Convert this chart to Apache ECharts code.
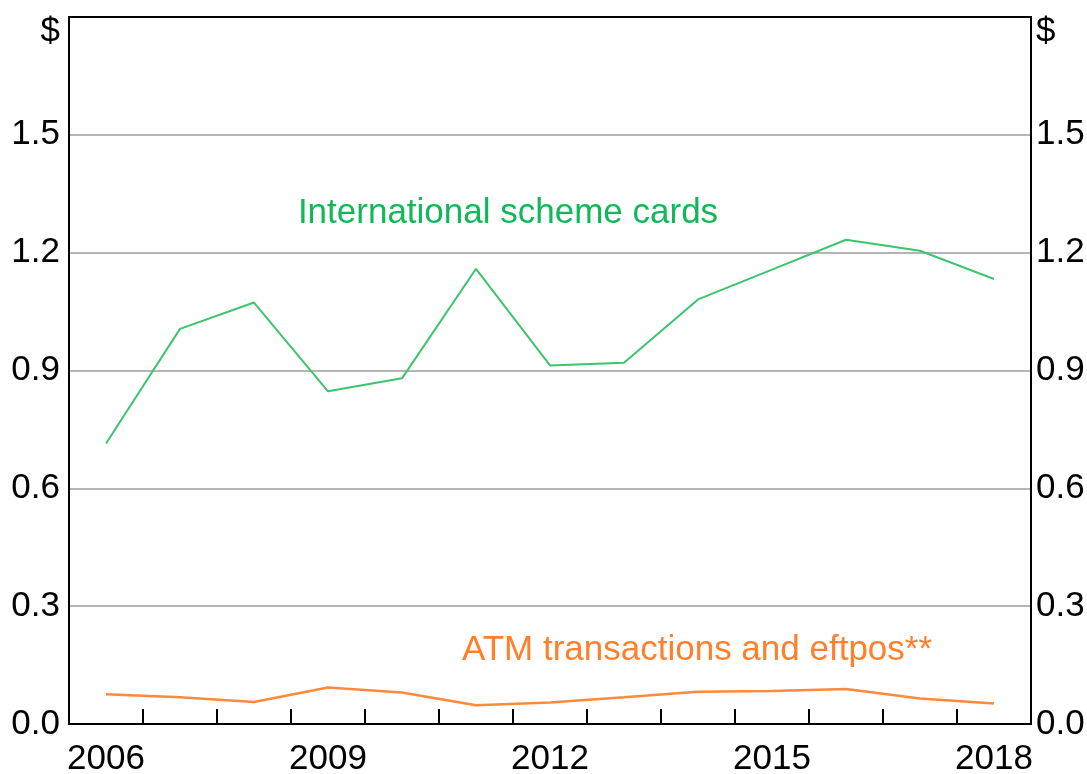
<!DOCTYPE html>
<html>
<head>
<meta charset="utf-8">
<script src="https://cdn.jsdelivr.net/npm/echarts@6/dist/echarts.min.js"></script>
<style>
html,body{margin:0;padding:0;background:#fff;}
#chart{width:1087px;height:774px;}
</style>
</head>
<body>
<div id="chart"></div>
<script>
const years = ['2006','2007','2008','2009','2010','2011','2012','2013','2014','2015','2016','2017','2018'];
const internationalScheme = [0.714, 1.006, 1.073, 0.847, 0.880, 1.159, 0.913, 0.920, 1.081, 1.157, 1.233, 1.205, 1.133];
const atmEftpos = [0.076, 0.068, 0.056, 0.093, 0.080, 0.048, 0.055, 0.068, 0.082, 0.084, 0.089, 0.065, 0.052];
const yTicks = [0, 0.3, 0.6, 0.9, 1.2, 1.5, 1.8];
const unitLabel = '$';
const seriesNames = ['International scheme cards', 'ATM transactions and eftpos**'];

const FONT = 'Liberation Sans, Arial, sans-serif';
const FS = 35;

function yFmt(v) {
  if (Math.abs(v - yTicks[yTicks.length - 1]) < 1e-9) return '{u|' + unitLabel + '}';
  return v.toFixed(1);
}

const chart = echarts.init(document.getElementById('chart'), null, {renderer: 'canvas'});
const yBase = {
  type: 'value',
  min: yTicks[0],
  max: yTicks[yTicks.length - 1],
  interval: 0.3,
  axisTick: {show: false},
  axisLine: {show: true, lineStyle: {color: '#000', width: 2}},
  axisLabel: {
    color: '#000', fontFamily: FONT, fontSize: FS,
    formatter: yFmt,
    rich: {u: {fontFamily: FONT, fontSize: FS, color: '#000', padding: [30, 0, 0, 0]}}
  }
};
chart.setOption({
  animation: false,
  grid: {left: 69, right: 56, top: 17, bottom: 50, show: true, borderColor: '#000', borderWidth: 2, containLabel: false, outerBoundsMode: 'none'},
  xAxis: {
    type: 'category',
    data: years,
    boundaryGap: true,
    axisLine: {lineStyle: {color: '#000', width: 2}},
    axisTick: {show: true, inside: true, length: 15, interval: 0, lineStyle: {color: '#000', width: 2}},
    axisLabel: {interval: 2, color: '#000', fontFamily: FONT, fontSize: FS, margin: 18},
    splitLine: {show: false}
  },
  yAxis: [
    Object.assign({}, yBase, {
      position: 'left',
      splitLine: {show: true, showMaxLine: false, showMinLine: false, lineStyle: {color: '#b4b4b4', width: 2}},
      axisLabel: Object.assign({}, yBase.axisLabel, {margin: 9})
    }),
    Object.assign({}, yBase, {
      position: 'right',
      splitLine: {show: false},
      axisLabel: Object.assign({}, yBase.axisLabel, {margin: 5})
    })
  ],
  series: [
    {
      name: seriesNames[0], type: 'line', data: internationalScheme, yAxisIndex: 0,
      symbol: 'none', lineStyle: {color: '#3cc46e', width: 2}
    },
    {
      name: seriesNames[1], type: 'line', data: atmEftpos, yAxisIndex: 0,
      symbol: 'none', lineStyle: {color: '#ff8a3d', width: 2.5}
    }
  ],
  graphic: [
    {type: 'text', x: 508, y: 213, style: {text: seriesNames[0], fill: '#10b85a', font: FS + 'px ' + FONT, textAlign: 'center', textVerticalAlign: 'middle'}},
    {type: 'text', x: 697, y: 650, style: {text: seriesNames[1], fill: '#ff7f2a', font: FS + 'px ' + FONT, textAlign: 'center', textVerticalAlign: 'middle'}}
  ]
});
</script>
</body>
</html>
